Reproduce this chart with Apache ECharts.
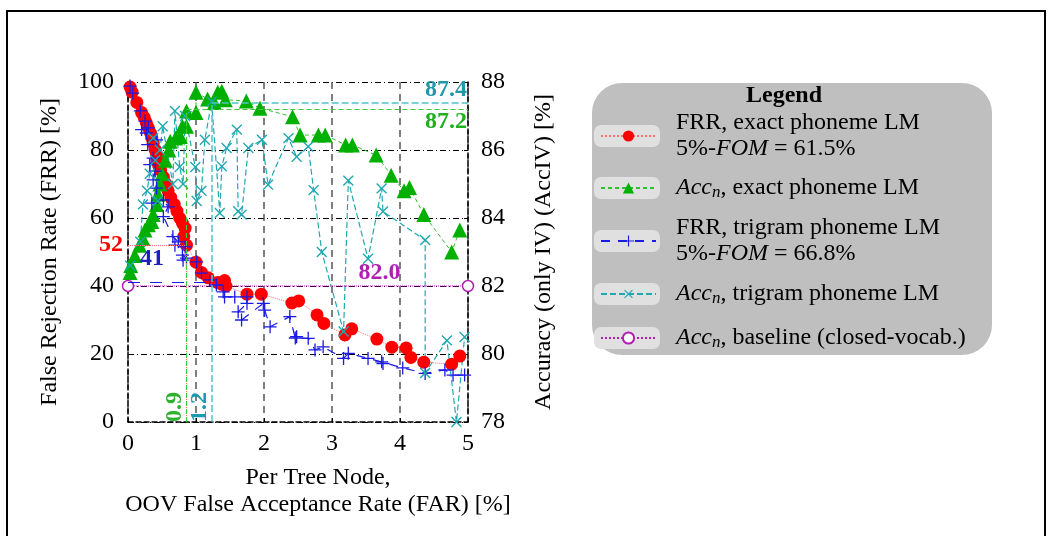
<!DOCTYPE html>
<html lang="en">
<head>
<meta charset="UTF-8">
<title>FRR / Acc vs FAR</title>
<script src="https://cdn.jsdelivr.net/npm/echarts@6/dist/echarts.min.js"></script>
<style>html,body{margin:0;padding:0;background:#fff;}</style>
</head>
<body>
<div id="chart" style="width:1053px;height:536px;"></div>
<script>
var FONT = 'Liberation Serif';
var FS = 24;

// FRR, exact phoneme LM  [FAR %, FRR %]
var frrExact = [[0.03,98.5],[0.06,97],[0.13,94],[0.2,91],[0.24,89.5],[0.27,88],[0.3,86.5],[0.33,85],[0.35,83.5],
  [0.37,82],[0.4,80],[0.42,78.5],[0.43,77],[0.45,75.5],[0.48,74],[0.52,72],[0.56,70],[0.59,68],[0.63,66],[0.68,64],
  [0.72,62],[0.76,60],[0.8,58.5],[0.84,57],[0.82,54.5],[0.86,52],[1.0,47],[1.08,44],[1.18,42.4],[1.32,41],
  [1.38,40.5],[1.42,41.6],[1.44,40],[1.75,37.6],[1.96,37.6],[2.41,35],[2.51,35.6],[2.78,31.5],[2.88,29],
  [3.19,25.6],[3.29,27.4],[3.66,24.4],[3.88,22],[4.09,21.8],[4.16,19],[4.35,17.6],[4.76,17],[4.88,19.4]];

// Acc_n, exact phoneme LM  [FAR %, Acc %]
var accExact = [[0.03,82.4],[0.04,82.6],[0.1,82.9],[0.17,83.2],[0.22,83.4],[0.25,83.65],[0.3,83.8],[0.35,83.9],
  [0.37,84.1],[0.42,84.4],[0.44,84.7],[0.47,85.0],[0.5,85.3],[0.55,85.7],[0.6,86.0],[0.62,86.26],[0.7,86.35],
  [0.77,86.4],[0.8,86.7],[0.86,86.7],[0.86,87.15],[1.0,87.1],[1.0,87.7],[1.17,87.5],[1.27,87.4],[1.32,87.7],
  [1.38,87.73],[1.43,87.48],[1.74,87.44],[1.94,87.23],[2.42,86.98],[2.53,86.44],[2.8,86.44],[2.9,86.44],
  [3.2,86.15],[3.3,86.15],[3.65,85.85],[3.87,85.26],[4.06,84.8],[4.14,84.9],[4.35,84.1],[4.76,83.0],[4.88,83.65]];

// FRR, trigram phoneme LM
var frrTrigram = [[0.03,98.8],[0.07,96.7],[0.18,91.5],[0.25,88.5],[0.2,86],[0.27,85],[0.3,86.5],[0.29,81.6],
  [0.42,83],[0.37,77.6],[0.32,75.7],[0.4,73.8],[0.37,71.2],[0.42,68.8],[0.35,64.4],[0.52,65.3],[0.59,63.3],
  [0.52,60.4],[0.66,54.5],[0.74,53],[0.69,52],[0.84,51.5],[0.8,49.1],[0.86,48.2],[0.81,47.6],[1.01,47.1],
  [1.08,43.8],[1.2,41.8],[1.3,40.3],[1.4,38.3],[1.42,36.8],[1.57,36.8],[1.75,36.8],[1.75,34.9],[1.62,32.4],
  [1.67,30],[1.99,34.9],[2.01,32.9],[2.09,28],[2.38,31],[2.46,24.7],[2.48,25.1],[2.65,24.6],[2.75,21.2],
  [2.87,22.1],[3.17,18.7],[3.24,20.2],[3.53,18.7],[3.73,17.7],[3.75,17.2],[4.04,15.9],[4.37,14.3],[4.66,15.3],
  [4.78,13.8],[4.95,13.8]];

// Acc_n, trigram phoneme LM
var accTrigram = [[0.03,82.6],[0.18,83.3],[0.22,84.4],[0.28,84.8],[0.32,85.3],[0.37,86.35],[0.4,85.7],[0.44,84.5],
  [0.47,86.0],[0.51,86.7],[0.66,85.0],[0.69,87.15],[0.76,85.5],[0.81,85.0],[0.84,87.0],[0.99,85.5],[1.01,84.5],
  [1.08,84.8],[1.13,86.3],[1.23,87.42],[1.35,84.15],[1.38,85.52],[1.45,86.06],[1.6,86.6],[1.62,84.2],[1.67,84.1],
  [1.77,86.06],[1.97,86.3],[2.06,84.98],[2.36,86.35],[2.48,85.8],[2.65,86.1],[2.73,84.82],[2.85,83.0],[3.17,80.66],
  [3.24,85.1],[3.53,82.8],[3.73,84.87],[3.75,84.19],[4.37,83.35],[4.37,79.44],[4.69,80.4],[4.83,78.0],[4.95,80.5]];

// Acc_n, baseline (closed vocabulary)
var accBaseline = [[0,82.0],[5,82.0]];

var xTicks = [0, 1, 2, 3, 4, 5];
var names = ['frrExact', 'accExact', 'frrTrigram', 'accTrigram', 'baseline'];
var legendText = {
  frrExact: 'FRR, exact phoneme LM\n5%-{i|FOM} = 61.5%',
  accExact: '{i|Acc}{s|n}, exact phoneme LM',
  frrTrigram: 'FRR, trigram phoneme LM\n5%-{i|FOM} = 66.8%',
  accTrigram: '{i|Acc}{s|n}, trigram phoneme LM',
  baseline: '{i|Acc}{s|n}, baseline (closed-vocab.)'
};
var legendY = [136, 188, 241, 294, 338];
var legendLines = [2, 1, 2, 1, 1];

var plusPath = 'path://M9,0h2v9h9v2h-9v9h-2v-9h-9v-2h9z';
var RED = '#ff0000', GREEN = '#00b000', BLUE = '#1a1ae6', CYAN = '#20a8b0', MAG = '#b020b0';

function boldLabel(color, text, pos, dist) {
  return {show: true, position: pos, formatter: text, color: color, fontFamily: FONT,
    fontSize: FS, fontWeight: 'bold', distance: dist == null ? 5 : dist};
}

var legends = names.map(function (n, i) {
  var h = legendLines[i] * 26;
  return {
    data: [n], orient: 'vertical', left: 600, top: legendY[i] - h / 2, padding: 0,
    itemWidth: 55, itemHeight: 14, selectedMode: false,
    formatter: function (name) { return legendText[name]; },
    textStyle: {
      fontFamily: FONT, fontSize: FS, color: '#000', lineHeight: 26, padding: [0, 0, 0, 15],
      rich: {
        i: {fontFamily: FONT, fontSize: FS, fontStyle: 'italic', color: '#000'},
        s: {fontFamily: FONT, fontSize: 17, fontStyle: 'italic', color: '#000', verticalAlign: 'bottom', padding: [10, 0, 0, 0]}
      }
    }
  };
});

var graphics = [
  {type: 'rect', shape: {x: 7, y: 11, width: 1038, height: 600}, style: {fill: 'none', stroke: '#000', lineWidth: 2}, z: -10},
  {type: 'rect', shape: {x: 592, y: 83, width: 400, height: 272, r: 30}, style: {fill: '#bfbfbf'}, z: -5},
  {type: 'text', x: 784, y: 96, style: {text: 'Legend', fontFamily: FONT, fontSize: FS, fontWeight: 'bold',
    fill: '#000', align: 'center', verticalAlign: 'middle'}, z: -4}
];
legendY.forEach(function (y) {
  graphics.push({type: 'rect', shape: {x: 594, y: y - 11, width: 66, height: 22, r: 7},
    style: {fill: '#e0e0e0'}, z: -4});
});

var axisFont = {fontFamily: FONT, fontSize: FS, color: '#000'};
var dashedAxis = {show: true, lineStyle: {color: '#000', width: 1.5, type: [5, 3]}};

var option = {
  animation: false,
  backgroundColor: '#fff',
  grid: {left: 128, right: 585, top: 82, bottom: 114},
  graphic: graphics,
  legend: legends,
  xAxis: {
    type: 'value', min: 0, max: 5, interval: 1,
    axisLine: dashedAxis,
    axisTick: {inside: true, length: 4, lineStyle: {color: '#000'}},
    axisLabel: Object.assign({margin: 10, formatter: function (v) { return xTicks.indexOf(v) >= 0 ? String(v) : ''; }}, axisFont),
    splitLine: {show: true, lineStyle: {color: '#555', width: 1.5, type: [7, 5]}},
    name: 'Per Tree Node,\nOOV False Acceptance Rate (FAR) [%]',
    nameLocation: 'middle', nameGap: 42,
    nameTextStyle: Object.assign({lineHeight: 27, padding: [0, 0, 0, 40]}, axisFont)
  },
  yAxis: [{
    type: 'value', position: 'left', min: 0, max: 100, interval: 20,
    axisLine: dashedAxis,
    axisTick: {show: true, inside: true, length: 4, lineStyle: {color: '#000'}},
    axisLabel: Object.assign({margin: 14}, axisFont),
    splitLine: {show: true, lineStyle: {color: '#000', width: 1, type: [6, 3, 1, 3]}},
    name: 'False Rejection Rate (FRR) [%]', nameLocation: 'middle', nameGap: 66, nameRotate: 90,
    nameTextStyle: axisFont
  }, {
    type: 'value', position: 'right', min: 78, max: 88, interval: 2,
    axisLine: dashedAxis,
    axisTick: {show: true, inside: true, length: 4, lineStyle: {color: '#000'}},
    axisLabel: Object.assign({margin: 13}, axisFont),
    splitLine: {show: false},
    name: 'Accuracy (only IV) (AccIV) [%]', nameLocation: 'middle', nameGap: 64, nameRotate: 90,
    nameTextStyle: axisFont
  }],
  series: [{
    name: 'frrExact', type: 'line', data: frrExact, yAxisIndex: 0,
    symbol: 'circle', symbolSize: 13, itemStyle: {color: RED},
    lineStyle: {color: '#ff7070', width: 1, type: 'dotted'},
    markLine: {
      silent: true, symbol: ['none', 'none'],
      lineStyle: {color: '#ff7070', width: 1, type: 'dotted'},
      data: [
        [{coord: [0, 52], label: boldLabel(RED, '52', 'start')}, {coord: [0.86, 52]}],
        [{coord: [0.86, 0], label: {show: false}}, {coord: [0.86, 52]}]
      ]
    }
  }, {
    name: 'accExact', type: 'line', data: accExact, yAxisIndex: 1,
    symbol: 'triangle', symbolSize: 15, itemStyle: {color: GREEN},
    lineStyle: {color: '#30c030', width: 1, type: [4, 3]},
    markLine: {
      silent: true, symbol: ['none', 'none'],
      lineStyle: {color: '#40c840', width: 1.2, type: [5, 3]},
      data: [
        [{coord: [0.86, 78], label: boldLabel('#30b030', '0.9', 'insideStartTop', 0)}, {coord: [0.86, 87.2]}],
        [{coord: [0.86, 87.2], label: boldLabel('#20b020', '87.2', 'insideEndBottom', 1)}, {coord: [5, 87.2]}]
      ]
    }
  }, {
    name: 'frrTrigram', type: 'line', data: frrTrigram, yAxisIndex: 0,
    symbol: plusPath, symbolSize: 13, itemStyle: {color: BLUE},
    lineStyle: {color: BLUE, width: 1.2, type: [9, 8]},
    markLine: {
      silent: true, symbol: ['none', 'none'],
      lineStyle: {color: BLUE, width: 1.2, type: [12, 10]},
      data: [
        [{coord: [0, 41], label: boldLabel('#2020c0', '41', 'insideStartTop', 12)}, {coord: [1.2, 41]}]
      ]
    }
  }, {
    name: 'accTrigram', type: 'line', data: accTrigram, yAxisIndex: 1,
    symbol: plusPath, symbolRotate: 45, symbolSize: 14, itemStyle: {color: CYAN},
    lineStyle: {color: CYAN, width: 1.2, type: [6, 3]},
    markLine: {
      silent: true, symbol: ['none', 'none'],
      lineStyle: {color: '#50c4c8', width: 1.5, type: [7, 3]},
      data: [
        [{coord: [1.23, 78], label: boldLabel('#2098b0', '1.2', 'insideStartTop', 0)}, {coord: [1.23, 87.4]}],
        [{coord: [1.23, 87.4], label: boldLabel('#2098a8', '87.4', 'insideEndTop', 1)}, {coord: [5, 87.4]}]
      ]
    }
  }, {
    name: 'baseline', type: 'line', data: accBaseline, yAxisIndex: 1, clip: false,
    symbol: 'circle', symbolSize: 11,
    itemStyle: {color: '#fff', borderColor: MAG, borderWidth: 1.5},
    lineStyle: {color: MAG, width: 1, type: 'dotted'},
    markPoint: {
      silent: true, symbol: 'circle', symbolSize: 0,
      label: boldLabel(MAG, '82.0', 'top', 1),
      data: [{coord: [3.7, 82]}]
    }
  }]
};

var chart = echarts.init(document.getElementById('chart'));
chart.setOption(option);
</script>
</body>
</html>
